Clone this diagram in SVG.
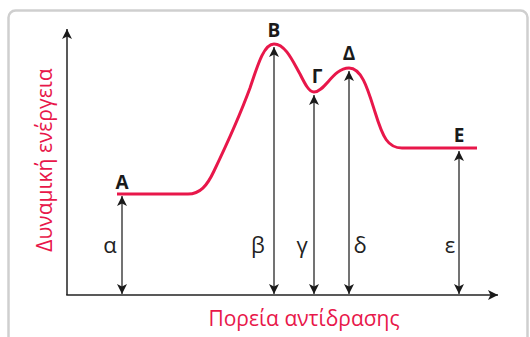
<svg xmlns="http://www.w3.org/2000/svg" width="530" height="337" viewBox="0 0 530 337">
<style>
.frame{fill:#fff;stroke:#cfcfcf;stroke-width:2.5}
.axis{stroke:#222;stroke-width:1.5;fill:none}
.dim{stroke:#444;stroke-width:1.5;fill:none}
.curve{stroke:#e8174a;stroke-width:3;fill:none;stroke-linecap:butt;stroke-linejoin:round}
.pt{font-family:"Open Sans","Noto Sans",sans-serif;font-weight:bold;font-size:19px;fill:#1a1a1a;text-anchor:middle}
.gr{font-family:"Open Sans","Noto Sans",sans-serif;font-size:22px;fill:#222;text-anchor:middle}
.ax{font-family:"Open Sans","Noto Sans",sans-serif;font-size:21px;fill:#e8174a;text-anchor:middle}
</style>
<defs>
<marker id="ah" viewBox="0 0 10 10" refX="10" refY="5" markerWidth="10" markerHeight="10" markerUnits="userSpaceOnUse" orient="auto-start-reverse">
<path d="M0,0 L10,5 L0,10 L2.5,5 Z" fill="#1a1a1a"/>
</marker>
</defs>
<rect class="frame" x="8.5" y="10.5" width="519" height="340" rx="7"/>
<g id="axes">
<line class="axis" x1="67" y1="295" x2="67" y2="29" marker-end="url(#ah)"/>
<line class="axis" x1="66.25" y1="295" x2="498" y2="295" marker-end="url(#ah)"/>
</g>
<g id="axis-labels">
<text class="ax" transform="translate(52,160) rotate(-90)">Δυναμική ενέργεια</text>
<text class="ax" x="304" y="326">Πορεία αντίδρασης</text>
</g>
<g id="curve">
<path class="curve" d="M117,194 L188,194 C200,194 207,186 214,171 C226,146 240,115 250,88 C258,64 264,44 274,44 C286,44 294,64 300,74 C305,84 309,92 314,92 C325,92 333,68 349,68 C362,68 368,90 375,112 C383,138 388,148 402,148 L477,148"/>
</g>
<g id="connectors">
<line class="dim" x1="122" y1="196" x2="122" y2="294" marker-start="url(#ah)" marker-end="url(#ah)"/>
<line class="dim" x1="274" y1="47" x2="274" y2="294" marker-start="url(#ah)" marker-end="url(#ah)"/>
<line class="dim" x1="314" y1="95" x2="314" y2="294" marker-start="url(#ah)" marker-end="url(#ah)"/>
<line class="dim" x1="349" y1="71" x2="349" y2="294" marker-start="url(#ah)" marker-end="url(#ah)"/>
<line class="dim" x1="459" y1="151" x2="459" y2="294" marker-start="url(#ah)" marker-end="url(#ah)"/>
</g>
<g id="node-A"><text class="pt" x="122" y="189">A</text></g>
<g id="node-B"><text class="pt" x="274" y="37">B</text></g>
<g id="node-G"><text class="pt" x="317" y="83">Γ</text></g>
<g id="node-D"><text class="pt" x="349" y="60">Δ</text></g>
<g id="node-E"><text class="pt" x="459" y="142">E</text></g>
<g id="greek-labels">
<text class="gr" x="110" y="253">α</text>
<text class="gr" x="258" y="253">β</text>
<text class="gr" x="302" y="253">γ</text>
<text class="gr" x="360" y="253">δ</text>
<text class="gr" x="450" y="253">ε</text>
</g>
</svg>
